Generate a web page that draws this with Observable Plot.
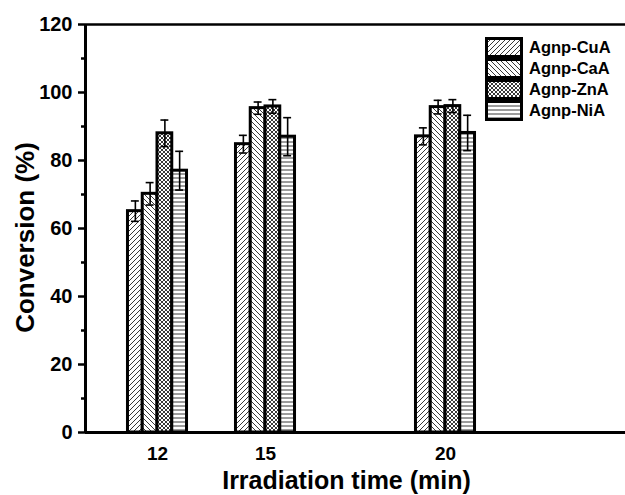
<!DOCTYPE html>
<html><head><meta charset="utf-8">
<script src="https://cdn.jsdelivr.net/npm/d3@7"></script>
<script src="https://cdn.jsdelivr.net/npm/@observablehq/plot@0.6"></script>
<style>
body{margin:0;background:#fff;}
#wrap{position:relative;width:625px;height:495px;}
</style></head><body><div id="wrap"></div>
<script>
const times = [12, 15, 20];
const seriesNames = ["Agnp-CuA", "Agnp-CaA", "Agnp-ZnA", "Agnp-NiA"];
const cuaValues = [65.1, 84.8, 87.1];
const cuaErrors = [3.0, 2.6, 2.5];
const caaValues = [70.2, 95.4, 95.7];
const caaErrors = [3.3, 1.8, 2.0];
const znaValues = [88.0, 95.9, 96.0];
const znaErrors = [3.9, 2.0, 1.9];
const niaValues = [77.0, 87.0, 88.1];
const niaErrors = [5.7, 5.6, 5.2];
const yTicks = [0, 20, 40, 60, 80, 100, 120];
const yMinorTicks = [10, 30, 50, 70, 90, 110];
const xTicks = [12, 15, 20];
const patternIds = ["pCu", "pCa", "pZn", "pNi"];

const allValues = [cuaValues, caaValues, znaValues, niaValues];
const allErrors = [cuaErrors, caaErrors, znaErrors, niaErrors];
const barW = 0.41;
const rows = [];
seriesNames.forEach((s, i) => {
  times.forEach((t, j) => {
    const x1 = t + (i - 2) * barW;
    rows.push({time: t, series: s, value: allValues[i][j], err: allErrors[i][j],
      x1, x2: x1 + barW, xc: x1 + barW / 2,
      lo: allValues[i][j] - allErrors[i][j], hi: allValues[i][j] + allErrors[i][j]});
  });
});
const capW = 0.11;
const font = "'Liberation Sans', Arial, sans-serif";

const plot = Plot.plot({
  width: 625, height: 495,
  marginLeft: 85, marginRight: 0, marginTop: 24, marginBottom: 63,
  style: {fontFamily: font, fontWeight: "bold", fontSize: "19px", color: "#000", background: "#fff", overflow: "visible"},
  x: {domain: [10, 25], label: null},
  y: {domain: [0, 120], label: null},
  color: {domain: seriesNames, range: patternIds.map(d => `url(#${d})`)},
  marks: [
    Plot.rectY(rows, {x1: "x1", x2: "x2", y: "value", fill: "series", stroke: "#000", strokeWidth: 3}),
    Plot.ruleX(rows, {x: "xc", y1: "lo", y2: "hi", stroke: "#000", strokeWidth: 1.6}),
    Plot.ruleY(rows, {y: "hi", x1: d => d.xc - capW, x2: d => d.xc + capW, stroke: "#000", strokeWidth: 1.6}),
    Plot.ruleY(rows, {y: "lo", x1: d => d.xc - capW, x2: d => d.xc + capW, stroke: "#000", strokeWidth: 1.6}),
    Plot.ruleY([120], {stroke: "#000", strokeWidth: 2.5}),
    Plot.ruleY([0], {stroke: "#000", strokeWidth: 3}),
    Plot.ruleX([10], {stroke: "#000", strokeWidth: 3}),
    Plot.axisY(yTicks, {tickSize: 7, tickPadding: 6, strokeWidth: 2.5, fontSize: 20, fontWeight: "bold", label: null}),
    Plot.axisY(yMinorTicks, {tickSize: 4, tickFormat: () => "", strokeWidth: 2.5, label: null}),
    Plot.axisX(xTicks, {tickSize: 0, tickPadding: 14, fontSize: 19, fontWeight: "bold", label: null}),
    Plot.text(["Conversion (%)"], {frameAnchor: "left", textAnchor: "middle", lineAnchor: "middle", rotate: -90, dx: -60, dy: 9, fontSize: 26, fontWeight: "bold"}),
    Plot.text(["Irradiation time (min)"], {frameAnchor: "bottom", textAnchor: "middle", lineAnchor: "middle", dx: -9, dy: 48, fontSize: 25, fontWeight: "bold"})
  ]
});
document.getElementById("wrap").appendChild(plot);

const svg = d3.select(plot);
const defs = svg.insert("defs", ":first-child");
function pat(id, size, paths) {
  const p = defs.append("pattern").attr("id", id).attr("patternUnits", "userSpaceOnUse")
    .attr("width", size).attr("height", size);
  p.append("rect").attr("width", size).attr("height", size).attr("fill", "#fff");
  p.append("path").attr("d", paths).attr("stroke", "#222").attr("stroke-width", 0.9).attr("fill", "none");
}
pat("pCu", 5, "M-1,1 L1,-1 M0,5 L5,0 M4,6 L6,4");
pat("pCa", 5, "M-1,4 L1,6 M0,0 L5,5 M4,-1 L6,1");
pat("pZn", 4, "M0,0 L4,4 M-1,3 L1,5 M3,-1 L5,1 M0,4 L4,0 M-1,1 L1,-1 M3,5 L5,3");
pat("pNi", 4, "M0,2 L4,2");

const leg = svg.append("g");
seriesNames.forEach((s, i) => {
  const y = 38.5 + i * 21;
  leg.append("rect").attr("x", 486.5).attr("y", y).attr("width", 35).attr("height", 18)
    .attr("fill", `url(#${patternIds[i]})`).attr("stroke", "#000").attr("stroke-width", 3);
  leg.append("text").attr("x", 529).attr("y", y + 9).attr("dy", "0.35em")
    .attr("text-anchor", "start")
    .attr("font-size", 16.5).attr("font-weight", "bold").attr("font-family", font).attr("fill", "#000").text(s);
});
</script></body></html>
